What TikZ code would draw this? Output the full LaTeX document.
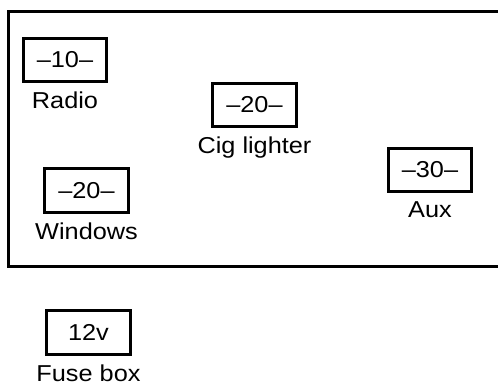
\documentclass[tikz,border=0pt]{standalone}
\usepackage{fontspec}
\setmainfont{Liberation Sans}[FakeStretch=1.1]
\usetikzlibrary{positioning}
\tikzset{
    fuse/.style={draw, line width=2.8pt, minimum width=83.5pt, minimum height=43.5pt, inner sep=0pt}, % fuse boxes
    caption/.style={inner sep=0pt}, % names under the fuses
    node distance=8.5pt,
}

\begin{document}
\begin{tikzpicture}[x=1pt, y=-1pt, font=\fontsize{23}{27}\selectfont]
  \clip (0,0) rectangle (498,383);
  \draw[line width=3pt] (515,11) -- (8,11) -- (8,266) -- (515,266);

  \node[fuse] (radio) at (65,60) {–10–};
  \node[caption, below=of radio] (radiotext) {Radio};

  \node[fuse] (cig) at (254.5,105) {–20–};
  \node[caption, below=of cig] (cigtext) {Cig lighter};

  \node[fuse] (windows) at (86.5,190.5) {–20–};
  \node[caption, below=of windows] (windowstext) {Windows};

  \node[fuse] (aux) at (430,170) {–30–};
  \node[caption, below=of aux] (auxtext) {Aux};

  \node[fuse] (fusebox) at (88.5,332.5) {12v};
  \node[caption, below=of fusebox] (fuseboxtext) {Fuse box};
\end{tikzpicture}
\end{document}
